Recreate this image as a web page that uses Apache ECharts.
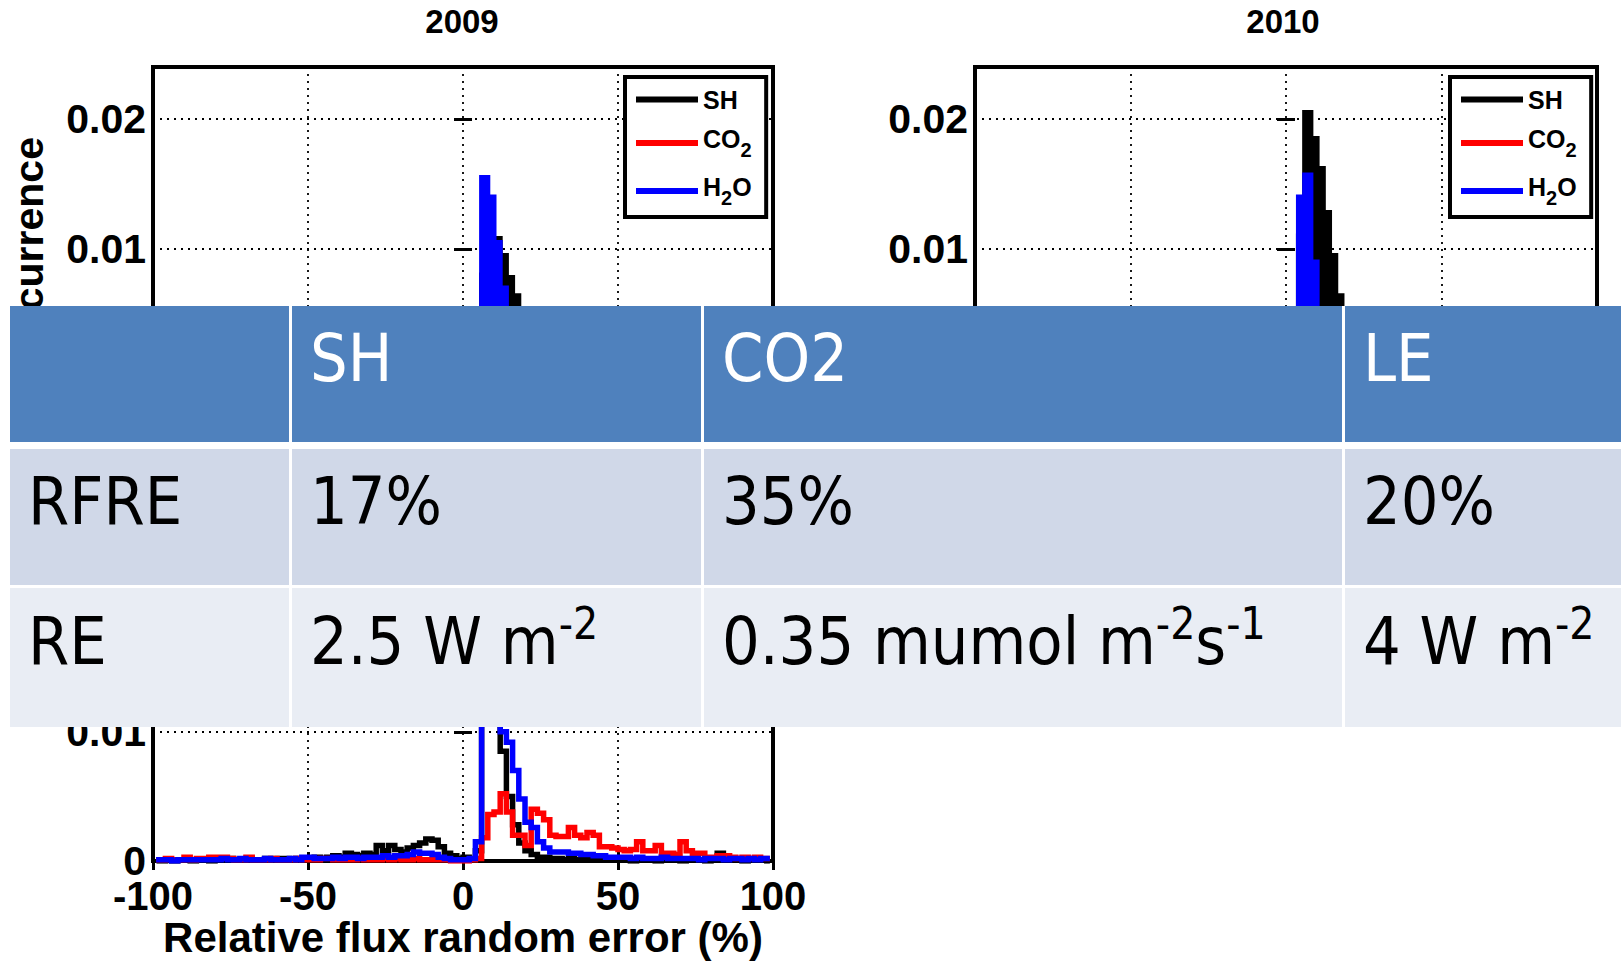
<!DOCTYPE html>
<html><head><meta charset="utf-8">
<script src="https://cdn.jsdelivr.net/npm/echarts@6/dist/echarts.min.js"></script>
<style>html,body{margin:0;padding:0;background:#fff}#c{width:1621px;height:961px}</style>
</head><body><div id="c"></div>
<script>
// ---- histogram bins (% relative flux random error), bin width 2 % ----
const binCenters = [-99,-97,-95,-93,-91,-89,-87,-85,-83,-81,-79,-77,-75,-73,-71,-69,-67,-65,-63,-61,-59,-57,-55,-53,-51,
  -49,-47,-45,-43,-41,-39,-37,-35,-33,-31,-29,-27,-25,-23,-21,-19,-17,-15,-13,-11,-9,-7,-5,-3,-1,
  1,3,5,7,9,11,13,15,17,19,21,23,25,27,29,31,33,35,37,39,41,43,45,47,49,
  51,53,55,57,59,61,63,65,67,69,71,73,75,77,79,81,83,85,87,89,91,93,95,97,99];

// occurrence values in units of 1e-4
const sh2009 = [0,1,0,0,1,0,1,1,0,1,1,0,1,1,1,2,1,1,1,2,1,2,2,1,2,
  2,2,3,2,3,4,3,4,5,4,6,5,7,6,8,7,9,10,11,12,14,13,10,6,3,
  2,4,20,80,104,108,95,78,64,52,42,32,25,19,14,11,9,7,6,5,4,4,3,3,2,
  2,2,2,1,2,1,1,2,1,1,1,1,1,1,1,0,1,1,1,0,1,1,0,1,1];
const co22009 = [1,2,1,1,2,1,2,2,1,1,2,1,2,2,1,2,2,1,2,2,3,2,2,3,2,
  3,2,3,3,2,3,3,4,3,3,4,3,4,4,5,4,5,5,6,6,7,8,8,9,10,
  10,12,18,30,42,45,44,40,36,33,30,27,25,22,20,18,17,15,14,12,11,10,9,9,8,
  7,7,6,6,5,5,5,4,4,4,4,3,3,3,3,3,2,2,2,2,2,2,2,2,1];
const h2o2009 = [0,0,1,0,0,1,0,0,1,0,0,1,0,1,0,1,1,0,1,1,1,1,1,1,1,
  1,1,2,1,2,2,2,2,3,2,3,3,3,4,4,4,5,5,6,7,8,8,7,5,3,
  3,8,30,155,140,105,70,48,35,26,20,16,13,11,9,8,7,6,5,5,4,4,3,3,3,
  2,2,2,2,2,2,1,2,1,1,1,1,1,1,1,1,1,1,0,1,1,0,1,1,0];

const sh2010 = [0,0,1,0,0,1,0,1,0,1,1,0,1,1,1,1,2,1,1,2,1,2,1,2,2,
  2,3,2,3,3,4,3,4,4,5,5,6,6,7,7,8,8,9,10,11,12,11,9,7,5,
  5,20,110,205,185,162,128,95,64,48,38,30,24,19,15,12,10,9,8,6,5,5,4,4,3,
  3,2,2,2,2,2,1,1,1,1,1,1,1,1,1,1,0,1,1,0,1,1,0,1,0];
const co22010 = [1,1,2,1,1,2,1,2,1,2,2,1,2,2,2,1,2,3,2,2,3,2,3,3,3,
  3,3,4,3,4,4,4,5,4,5,5,6,6,7,7,8,9,9,10,11,12,13,14,14,15,
  16,20,26,38,48,50,47,43,38,34,30,27,24,22,19,17,16,14,13,12,11,10,9,8,8,
  7,7,6,6,6,5,5,5,4,4,4,4,3,3,3,3,3,2,2,2,2,2,2,2,2];
const h2o2010 = [0,0,0,1,0,0,1,0,0,1,0,1,0,1,1,0,1,1,1,1,1,1,1,2,1,
  2,1,2,2,2,2,3,3,3,3,4,4,4,5,5,6,6,7,8,9,10,10,9,7,6,
  8,25,140,157,90,45,30,22,17,13,11,9,8,7,6,5,5,4,4,3,3,3,3,2,2,
  2,2,2,2,1,2,1,1,1,1,1,1,1,1,1,0,1,1,1,0,1,0,1,1,0];

const shLower = [1,0,1,0,1,1,0,1,1,0,1,1,2,1,1,2,1,1,2,1,2,2,1,2,2,
  2,3,2,3,4,3,6,5,4,6,5,12,8,12,9,7,10,12,14,17,16,11,6,4,2,
  3,1,8,140,150,115,85,50,28,14,8,5,3,3,2,2,1,2,1,1,1,1,1,1,1,
  1,1,0,1,1,1,0,1,1,1,0,1,1,1,0,1,6,2,1,1,0,1,1,1,0];
const co2Lower = [1,1,2,1,1,3,1,2,2,3,3,3,2,1,1,3,1,1,1,2,1,1,1,2,1,
  1,1,2,2,1,1,1,1,2,1,1,1,2,1,2,1,1,2,1,1,1,1,1,0,0,
  0,1,2,18,36,38,52,38,20,20,12,40,37,32,20,19,19,26,20,18,22,20,11,11,10,
  9,8,9,15,8,8,12,6,6,5,15,8,6,6,3,3,4,4,3,2,3,2,3,2,2];
const h2oLower = [1,1,1,0,1,1,1,1,1,1,1,2,1,1,2,1,1,1,2,1,1,1,2,1,3,
  3,2,2,2,3,2,3,3,2,3,3,3,4,3,4,4,5,7,6,6,5,3,2,1,1,
  1,2,15,165,160,125,100,92,70,48,30,26,15,10,7,7,7,6,6,5,5,4,4,3,3,
  3,3,2,3,2,2,2,3,2,2,2,2,2,1,2,2,2,1,2,2,1,2,1,2,2];

const panelTitles = ['2009', '2010'];
const seriesNames = ['SH', 'CO2', 'H2O'];
const seriesColors = ['#000000', '#ff0000', '#0000ff'];
const yTickLabelsTop = {100: '0.01', 200: '0.02'};
const yTickLabelsLower = {0: '0', 100: '0.01'};
const xAxisTitle = 'Relative flux random error (%)';
const yAxisTitle = 'Occurrence';

// table
const tableHeader = ['', 'SH', 'CO2', 'LE'];
const tableRows = [
  ['RFRE', '17%', '35%', '20%'],
  ['RE', '2.5 W m{sup|-2}', '0.35 mumol m{sup|-2}{b|s}{sup|-1}', '4 W m{sup|-2}']
];

// ---- layout ----
const FONT = "'Liberation Sans', Arial, Helvetica, sans-serif";
const TFONT = "'DejaVu Sans Condensed', 'Liberation Sans Narrow', 'DejaVu Sans', sans-serif";
const grids = [
  {left: 153, top: 67, width: 620, height: 312},
  {left: 975, top: 67, width: 622, height: 312},
  {left: 153, top: 551, width: 620, height: 310}
];
const panels = [
  [sh2009, co22009, h2o2009],
  [sh2010, co22010, h2o2010],
  [shLower, co2Lower, h2oLower]
];

const gridOpt = grids.map(g => Object.assign({show: true, borderColor: '#000', borderWidth: 4, backgroundColor: '#fff', containLabel: false}, g));
const tickStyle = {inside: true, length: 9, lineStyle: {color: '#000', width: 3}};
const dotted = {show: true, lineStyle: {color: '#000', type: [2, 5], width: 1.8}};
const xAxes = [], yAxes = [];
grids.forEach((g, i) => {
  const lower = i === 2;
  const xa = {type: 'value', gridIndex: i, min: -100, max: 100, interval: 50,
    axisLine: {show: false}, axisTick: tickStyle,
    axisLabel: {show: lower, color: '#000', fontSize: 40, fontWeight: 'bold', fontFamily: FONT, margin: 15},
    splitLine: dotted};
  if (lower) {
    Object.assign(xa, {name: xAxisTitle, nameLocation: 'middle', nameGap: 55,
      nameTextStyle: {color: '#000', fontSize: 42, fontWeight: 'bold', fontFamily: FONT}});
  }
  xAxes.push(xa);
  const labels = lower ? yTickLabelsLower : yTickLabelsTop;
  yAxes.push({type: 'value', gridIndex: i, min: 0, max: 240, interval: 100,
    axisLine: {show: false}, axisTick: tickStyle,
    axisLabel: {color: '#000', fontSize: 41, fontWeight: 'bold', fontFamily: FONT, margin: 7,
      formatter: v => (labels[v] !== undefined ? labels[v] : '')},
    splitLine: dotted});
});
grids.forEach((g, i) => {
  xAxes.push({type: 'value', gridIndex: i, position: 'top', min: -100, max: 100, interval: 50,
    axisLine: {show: false}, axisTick: tickStyle, axisLabel: {show: false}, splitLine: {show: false}});
  yAxes.push({type: 'value', gridIndex: i, position: 'right', min: 0, max: 240, interval: 100,
    axisLine: {show: false}, axisTick: tickStyle, axisLabel: {show: false}, splitLine: {show: false}});
});

const series = [];
panels.forEach((vals3, gi) => {
  vals3.forEach((vals, k) => {
    const s = {
      name: seriesNames[k], type: 'line', xAxisIndex: gi, yAxisIndex: gi,
      step: 'middle', symbol: 'none', showSymbol: false, animation: false,
      z: 2 + k,
      data: binCenters.map((x, j) => [x, vals[j]]),
      lineStyle: {color: seriesColors[k], width: gi < 2 ? 5 : 5.5, cap: 'butt', join: 'miter'},
      itemStyle: {color: seriesColors[k]}
    };
    if (gi < 2) s.areaStyle = {color: seriesColors[k], opacity: 1};
    series.push(s);
  });
});

const LF = {fontWeight: 'bold', fontFamily: FONT, color: '#000'};
const legendRich = {
  m: Object.assign({fontSize: 25, lineHeight: 26}, LF),
  n: Object.assign({fontSize: 25, lineHeight: 19, verticalAlign: 'top'}, LF),
  s: Object.assign({fontSize: 20, lineHeight: 15, verticalAlign: 'bottom'}, LF),
  h: Object.assign({fontSize: 2, lineHeight: 34, verticalAlign: 'middle'}, LF)
};
function legendFmt(name) {
  if (name === 'CO2') return '{n|CO}{s|2}{h| }';
  if (name === 'H2O') return '{n|H}{s|2}{n|O}{h| }';
  return '{m|' + name + '}';
}
const legends = [625, 1450].map(l => ({
  data: seriesNames, left: l, top: 77, orient: 'vertical', selectedMode: false,
  padding: [10, 14, 9, 11], itemWidth: 62, itemHeight: 6, itemGap: 14, icon: 'rect',
  borderColor: '#000', borderWidth: 4, backgroundColor: '#fff',
  formatter: legendFmt,
  textStyle: Object.assign({fontSize: 25, rich: legendRich}, LF)
}));

const titles = panelTitles.map((t, i) => ({
  text: t, left: [462, 1283][i], top: 5, textAlign: 'center', padding: 0,
  textStyle: {fontSize: 33, fontWeight: 'bold', fontFamily: FONT, color: '#000'}
}));

// ---- table graphic ----
const tableBox = {x: 10, y: 306, width: 1611, height: 421};
const colEdges = [[10, 289], [292, 701], [704, 1342], [1345, 1621]];
const rowEdges = [[306, 442], [449, 585], [588, 727]];
const rowFills = ['#4F81BD', '#D0D8E8', '#E9EDF4'];
const textInset = 18;
const gfx = [{type: 'rect', z: 99, shape: tableBox, style: {fill: '#ffffff'}}];
rowEdges.forEach((r, ri) => {
  colEdges.forEach((c, ci) => {
    gfx.push({type: 'rect', z: 100, shape: {x: c[0], y: r[0], width: c[1] - c[0], height: r[1] - r[0]},
      style: {fill: rowFills[ri]}});
  });
});
const tRich = {
  b: {fontSize: 66, fontFamily: TFONT, lineHeight: 80, fill: '#000'},
  sup: {fontSize: 44, fontFamily: TFONT, lineHeight: 49, verticalAlign: 'top', fill: '#000'}
};
const textRowsAll = [tableHeader].concat(tableRows);
textRowsAll.forEach((row, ri) => {
  row.forEach((txt, ci) => {
    if (!txt) return;
    const rich = txt.indexOf('{') >= 0;
    gfx.push({type: 'text', z: 101,
      style: {text: rich ? txt.replace(/^([^{]+)/, '{b|$1}') : txt,
        x: colEdges[ci][0] + textInset, y: (rowEdges[ri][0] + rowEdges[ri][1]) / 2 - 16,
        fill: ri === 0 ? '#ffffff' : '#000000', fontSize: 66, fontFamily: TFONT,
        align: 'left', verticalAlign: 'middle', lineHeight: 80, rich: rich ? tRich : undefined}});
  });
});
gfx.push({type: 'text', z: 5, x: 29, y: 251, rotation: Math.PI / 2,
  style: {text: yAxisTitle, align: 'center', verticalAlign: 'middle', fill: '#000',
    fontSize: 41, fontWeight: 'bold', fontFamily: FONT}});

const chart = echarts.init(document.getElementById('c'), null, {renderer: 'svg', width: 1621, height: 961});
chart.setOption({
  backgroundColor: '#ffffff',
  animation: false,
  title: titles,
  legend: legends,
  grid: gridOpt,
  xAxis: xAxes,
  yAxis: yAxes,
  series: series,
  graphic: {elements: gfx}
});
</script></body></html>
